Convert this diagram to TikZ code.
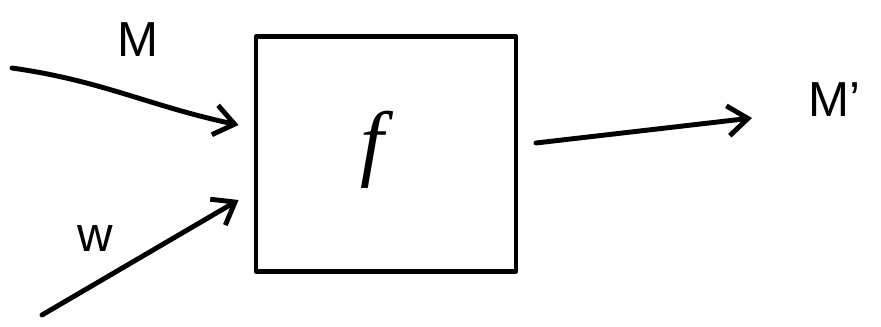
\documentclass[tikz,border=0pt]{standalone}
\usepackage{fontspec}
\setmainfont{Liberation Sans}
\newfontfamily\fserif{Liberation Serif}
\usepackage{tikz}
\usetikzlibrary{arrows.meta, positioning, calc}

\begin{document}
\begin{tikzpicture}[
    x=0.02cm, y=-0.02cm,
    pen/.style={line width=2.8pt, line cap=round, line join=round},
    arrow/.style={pen, -{Straight Barb[length=4mm, width=6mm, line width=2.8pt]}},
    block/.style={pen, draw, rectangle, minimum width=5.2cm, minimum height=4.7cm},
    lbl/.style={font=\fontsize{28}{32}\selectfont}
]
\useasboundingbox (0,0) rectangle (881,326);

% Box
\node (box) [block] at (386,154) {};
\node (f) at (372,150) {\fserif\itshape\fontsize{48}{52}\selectfont f};

% Free ends
\coordinate (mstart) at (12,68);
\coordinate (wstart) at (42,315);
\coordinate (mend) at (752,118);

% Labels
\node (mlbl) [lbl] at (138,40) {M};
\node (wlbl) [lbl] at (95,238) {w};
\node (moutlbl) [lbl] at (834,100) {M'};

% Arrows
\draw [arrow] (mstart) to[out=-8, in=168] ([xshift=-0.3cm, yshift=0.58cm]box.west);
\draw [arrow] (wstart) -- ([xshift=-0.3cm, yshift=-0.92cm]box.west);
\draw [arrow] ([xshift=0.35cm, yshift=0.22cm]box.east) -- (mend);

\end{tikzpicture}
\end{document}
